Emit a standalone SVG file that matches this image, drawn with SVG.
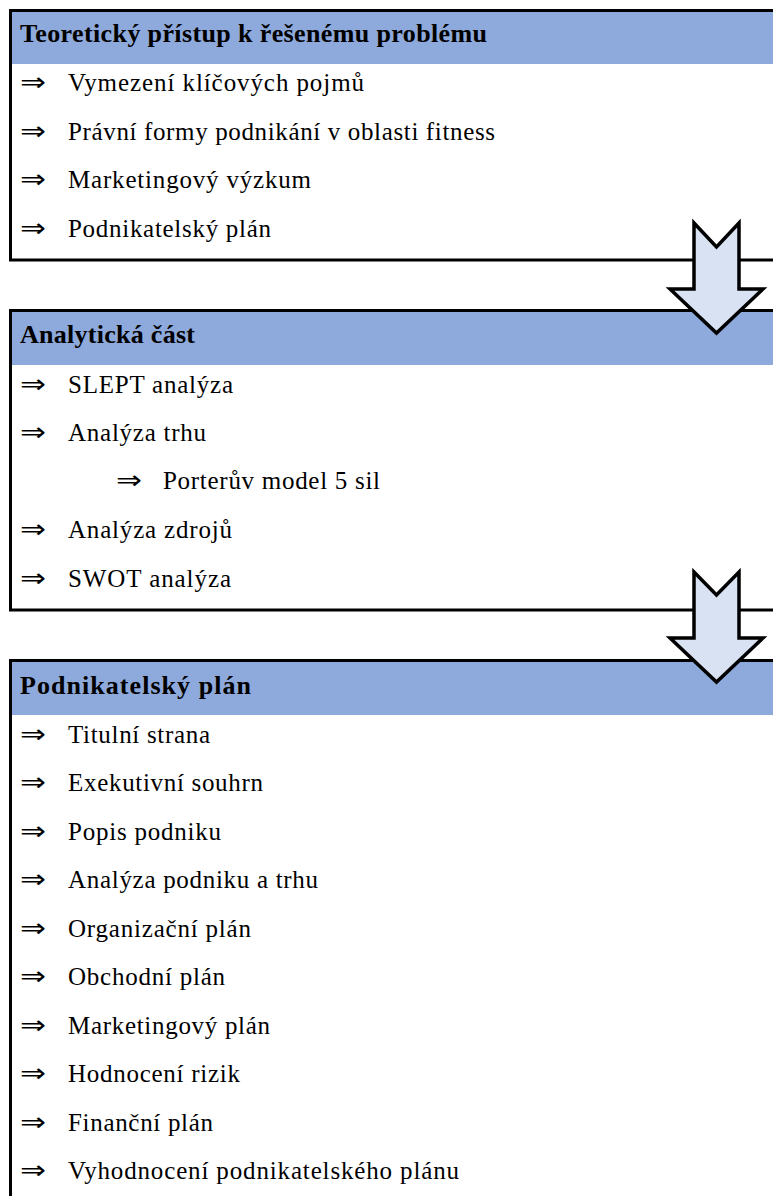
<svg xmlns="http://www.w3.org/2000/svg" width="773" height="1196" viewBox="0 0 773 1196">
<style>
.box{fill:#fff;stroke:#000;stroke-width:3}
.hdr{fill:#8EA9DB}
.ht{font-family:"Liberation Serif","DejaVu Serif",serif;font-weight:bold;font-size:26px;fill:#000}
.it{font-family:"Liberation Serif","DejaVu Serif",serif;font-size:25px;fill:#000}
.ar{font-family:"Liberation Serif","DejaVu Sans",serif;font-size:26px;fill:#000}
.flow{fill:#D9E2F3;stroke:#000;stroke-width:3.5;stroke-linejoin:miter}
</style>
<rect width="773" height="1196" fill="#fff"/>
<g id="box1">
<rect class="box" x="10.5" y="10.5" width="800" height="249.5"/>
<rect class="hdr" x="12" y="12" width="790" height="52"/>
<text class="ht" x="20" y="42" textLength="467" lengthAdjust="spacing">Teoretický přístup k řešenému problému</text>
<text class="ar" x="20" y="91" textLength="26" lengthAdjust="spacingAndGlyphs">⇒</text><text class="it" x="68" y="91" textLength="296" lengthAdjust="spacing">Vymezení klíčových pojmů</text>
<text class="ar" x="20" y="140" textLength="26" lengthAdjust="spacingAndGlyphs">⇒</text><text class="it" x="68" y="140" textLength="427" lengthAdjust="spacing">Právní formy podnikání v oblasti fitness</text>
<text class="ar" x="20" y="188" textLength="26" lengthAdjust="spacingAndGlyphs">⇒</text><text class="it" x="68" y="188" textLength="243" lengthAdjust="spacing">Marketingový výzkum</text>
<text class="ar" x="20" y="237" textLength="26" lengthAdjust="spacingAndGlyphs">⇒</text><text class="it" x="68" y="237" textLength="203" lengthAdjust="spacing">Podnikatelský plán</text>
</g>
<g id="box2">
<rect class="box" x="10.5" y="310.5" width="800" height="299.5"/>
<rect class="hdr" x="12" y="312" width="790" height="53"/>
<text class="ht" x="20" y="343" textLength="175" lengthAdjust="spacing">Analytická část</text>
<text class="ar" x="20" y="393" textLength="26" lengthAdjust="spacingAndGlyphs">⇒</text><text class="it" x="68" y="393" textLength="165" lengthAdjust="spacing">SLEPT analýza</text>
<text class="ar" x="20" y="441" textLength="26" lengthAdjust="spacingAndGlyphs">⇒</text><text class="it" x="68" y="441" textLength="138" lengthAdjust="spacing">Analýza trhu</text>
<text class="ar" x="116" y="489" textLength="26" lengthAdjust="spacingAndGlyphs">⇒</text><text class="it" x="163" y="489" textLength="217" lengthAdjust="spacing">Porterův model 5 sil</text>
<text class="ar" x="20" y="538" textLength="26" lengthAdjust="spacingAndGlyphs">⇒</text><text class="it" x="68" y="538" textLength="164" lengthAdjust="spacing">Analýza zdrojů</text>
<text class="ar" x="20" y="587" textLength="26" lengthAdjust="spacingAndGlyphs">⇒</text><text class="it" x="68" y="587" textLength="163" lengthAdjust="spacing">SWOT analýza</text>
</g>
<g id="box3">
<rect class="box" x="10.5" y="660.5" width="800" height="600"/>
<rect class="hdr" x="12" y="662" width="790" height="53"/>
<text class="ht" x="20" y="694" textLength="231" lengthAdjust="spacing">Podnikatelský plán</text>
<text class="ar" x="20" y="743" textLength="26" lengthAdjust="spacingAndGlyphs">⇒</text><text class="it" x="68" y="743" textLength="142" lengthAdjust="spacing">Titulní strana</text>
<text class="ar" x="20" y="791" textLength="26" lengthAdjust="spacingAndGlyphs">⇒</text><text class="it" x="68" y="791" textLength="195" lengthAdjust="spacing">Exekutivní souhrn</text>
<text class="ar" x="20" y="840" textLength="26" lengthAdjust="spacingAndGlyphs">⇒</text><text class="it" x="68" y="840" textLength="153" lengthAdjust="spacing">Popis podniku</text>
<text class="ar" x="20" y="888" textLength="26" lengthAdjust="spacingAndGlyphs">⇒</text><text class="it" x="68" y="888" textLength="250" lengthAdjust="spacing">Analýza podniku a trhu</text>
<text class="ar" x="20" y="937" textLength="26" lengthAdjust="spacingAndGlyphs">⇒</text><text class="it" x="68" y="937" textLength="183" lengthAdjust="spacing">Organizační plán</text>
<text class="ar" x="20" y="985" textLength="26" lengthAdjust="spacingAndGlyphs">⇒</text><text class="it" x="68" y="985" textLength="157" lengthAdjust="spacing">Obchodní plán</text>
<text class="ar" x="20" y="1034" textLength="26" lengthAdjust="spacingAndGlyphs">⇒</text><text class="it" x="68" y="1034" textLength="202" lengthAdjust="spacing">Marketingový plán</text>
<text class="ar" x="20" y="1082" textLength="26" lengthAdjust="spacingAndGlyphs">⇒</text><text class="it" x="68" y="1082" textLength="172" lengthAdjust="spacing">Hodnocení rizik</text>
<text class="ar" x="20" y="1131" textLength="26" lengthAdjust="spacingAndGlyphs">⇒</text><text class="it" x="68" y="1131" textLength="145" lengthAdjust="spacing">Finanční plán</text>
<text class="ar" x="20" y="1179" textLength="26" lengthAdjust="spacingAndGlyphs">⇒</text><text class="it" x="68" y="1179" textLength="391" lengthAdjust="spacing">Vyhodnocení podnikatelského plánu</text>
</g>
<g id="connectors">
<path class="flow" d="M694,223 L716.5,247 L739,223 L739,289 L763,289 L716.5,333 L670,289 L694,289 Z"/>
<path class="flow" d="M694,572 L716.5,595 L739,572 L739,638 L763,638 L716.5,682 L670,638 L694,638 Z"/>
</g>
</svg>
